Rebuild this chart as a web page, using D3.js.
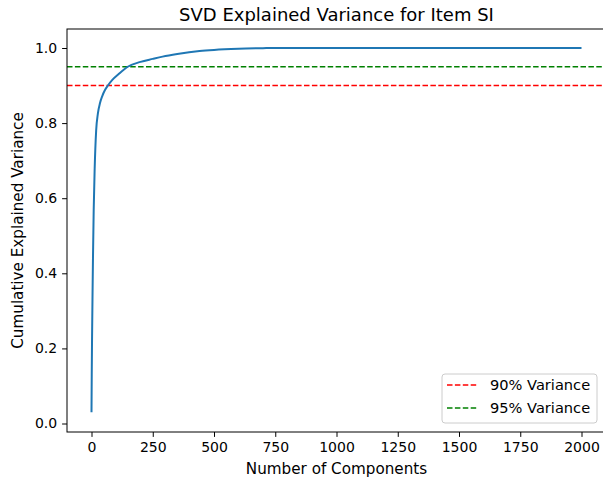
<!DOCTYPE html>
<html>

<head>
    <meta charset="utf-8">
    <title>SVD Explained Variance</title>
    <script src="https://cdnjs.cloudflare.com/ajax/libs/d3/7.8.5/d3.min.js"></script>
    <style>
        body { margin: 0; background: #fff; }
        text { font-family: "DejaVu Sans", sans-serif; fill: #000; }
    </style>
</head>

<body>
    <script>
        // values
        var components = [0, 1, 2, 4, 6, 9, 13, 19, 26, 35, 44, 55, 67, 85, 110, 148, 200, 250, 290, 350, 441, 500, 600, 700, 750, 1000, 1500, 2000];
        var cumVariance = [0.03, 0.13, 0.21, 0.33, 0.44, 0.57, 0.68, 0.78, 0.825, 0.854, 0.872, 0.888, 0.9, 0.915, 0.93, 0.95, 0.963, 0.971, 0.977, 0.984, 0.992, 0.995, 0.998, 0.9995, 1.0, 1.0, 1.0, 1.0];
        var xTicks = [0, 250, 500, 750, 1000, 1250, 1500, 1750, 2000];
        var yTicks = [0.0, 0.2, 0.4, 0.6, 0.8, 1.0];
        var thresholds = [0.90, 0.95];
        var thresholdLabels = ["90% Variance", "95% Variance"];
        var thresholdColors = ["#ff0000", "#008000"];

        var W = 603, H = 484;
        var pLeft = 67, pTop = 29, pRight = 606, pBottom = 432;

        var svg = d3.select("body")
            .append("svg")
            .attr("width", W)
            .attr("height", H);

        var x = d3.scaleLinear().domain([-100, 2100]).range([pLeft, pRight]);
        var y = d3.scaleLinear().domain([-0.0226, 1.0506]).range([pBottom, pTop]);

        svg.append("defs").append("clipPath").attr("id", "plot")
            .append("rect")
            .attr("x", pLeft).attr("y", pTop)
            .attr("width", pRight - pLeft).attr("height", pBottom - pTop);

        var plot = svg.append("g").attr("clip-path", "url(#plot)");

        // threshold lines
        thresholds.forEach(function(t, i) {
            plot.append("line")
                .attr("x1", pLeft).attr("x2", pRight)
                .attr("y1", y(t)).attr("y2", y(t))
                .attr("stroke", thresholdColors[i])
                .attr("stroke-width", 1.6)
                .attr("stroke-dasharray", "5.5,2.4");
        });

        var points = components.map(function(c, i) { return [c, cumVariance[i]]; });
        var line = d3.line()
            .x(function(d) { return x(d[0]); })
            .y(function(d) { return y(d[1]); })
            .curve(d3.curveMonotoneX);

        plot.append("path")
            .datum(points)
            .attr("d", line)
            .attr("fill", "none")
            .attr("stroke", "#1f77b4")
            .attr("stroke-width", 2);

        // axes
        var xAxis = svg.append("g")
            .attr("transform", "translate(0," + pBottom + ")")
            .call(d3.axisBottom(x).tickValues(xTicks).tickSize(4.9).tickPadding(4.9).tickFormat(d3.format("d")));
        var yAxis = svg.append("g")
            .attr("transform", "translate(" + pLeft + ",0)")
            .call(d3.axisLeft(y).tickValues(yTicks).tickSize(4.9).tickPadding(4.9).tickFormat(d3.format(".1f")));

        [xAxis, yAxis].forEach(function(a) {
            a.attr("font-size", 14).attr("font-family", "DejaVu Sans");
            a.select(".domain").remove();
            a.selectAll(".tick line").attr("stroke", "#000").attr("stroke-width", 1);
        });

        // frame
        svg.append("rect")
            .attr("x", pLeft).attr("y", pTop)
            .attr("width", pRight - pLeft).attr("height", pBottom - pTop)
            .attr("fill", "none")
            .attr("stroke", "#000")
            .attr("stroke-width", 1);

        // labels
        svg.append("text")
            .attr("x", (pLeft + pRight) / 2).attr("y", 21)
            .attr("text-anchor", "middle")
            .attr("font-size", "18px")
            .text("SVD Explained Variance for Item SI");

        svg.append("text")
            .attr("x", (pLeft + pRight) / 2).attr("y", 474)
            .attr("text-anchor", "middle")
            .attr("font-size", "15.2px")
            .text("Number of Components");

        svg.append("text")
            .attr("transform", "translate(23," + ((pTop + pBottom) / 2) + ") rotate(-90)")
            .attr("text-anchor", "middle")
            .attr("font-size", "15.2px")
            .text("Cumulative Explained Variance");

        // legend
        var legend = svg.append("g");
        legend.append("rect")
            .attr("x", 442).attr("y", 374)
            .attr("width", 155).attr("height", 49)
            .attr("rx", 3)
            .attr("fill", "#fff").attr("fill-opacity", 0.8)
            .attr("stroke", "#ccc").attr("stroke-width", 1);

        thresholdLabels.forEach(function(lbl, i) {
            var ly = 385 + i * 23;
            legend.append("line")
                .attr("x1", 447).attr("x2", 477)
                .attr("y1", ly).attr("y2", ly)
                .attr("stroke", thresholdColors[i])
                .attr("stroke-width", 1.6)
                .attr("stroke-dasharray", "5.5,2.4");
            legend.append("text")
                .attr("x", 490).attr("y", ly + 5)
                .attr("font-size", "14.6px")
                .text(lbl);
        });
    </script>
</body>

</html>
